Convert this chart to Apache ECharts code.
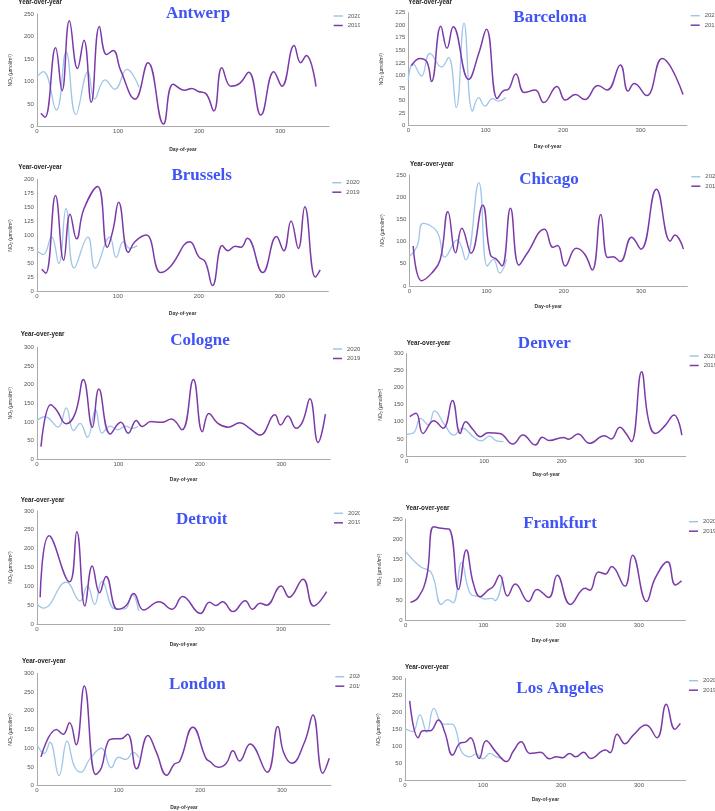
<!DOCTYPE html>
<html><head><meta charset="utf-8">
<script src="https://cdn.jsdelivr.net/npm/echarts@6/dist/echarts.min.js"></script>
<style>
html,body{margin:0;padding:0;background:#fff;width:715px;height:811px;overflow:hidden}
#left{position:absolute;left:0;top:0;width:360px;height:811px;overflow:hidden}
#right{position:absolute;left:360px;top:0;width:355px;height:811px;overflow:hidden}
</style>
</head><body><div id="left"></div><div id="right"></div>
<script>
// ---------- DATA ----------
const cities = ['Antwerp','Barcelona','Brussels','Chicago','Cologne','Denver','Detroit','Frankfurt','London','Los Angeles'];
const seriesNames = ['2020','2019'];
const yAxisMax = [250,225,200,250,300,300,300,250,300,300];
const yAxisStep = [50,25,25,50,50,50,50,50,50,50];
const xAxisMax = 360;
const xAxisStep = 100;

const antwerp2020 = [[0,111],[8,122],[24,37],[36,166],[48,27],[63,122],[71,61],[84,104],[96,83],[111,127],[126,87]];
const antwerp2019 = [[5,30],[10,21],[23,175],[31,80],[40,235],[50,129],[58,192],[67,54],[77,222],[86,160],[94,169],[103,126],[121,61],[137,142],[156,6],[168,94],[182,81],[191,85],[199,78],[208,74],[218,35],[228,131],[239,90],[250,96],[261,121],[276,26],[292,122],[302,90],[317,180],[325,142],[332,158],[344,89]];

const barcelona2020 = [[0,91],[6,124],[17,99],[28,144],[43,117],[52,136],[62,36],[72,204],[83,29],[91,56],[99,39],[109,54],[116,49],[126,56]];
const barcelona2019 = [[4,119],[15,134],[24,127],[30,88],[42,198],[50,154],[58,197],[78,92],[91,144],[101,192],[115,54],[123,70],[129,72],[139,103],[150,66],[164,71],[175,46],[192,78],[203,51],[216,62],[228,52],[245,80],[257,71],[274,121],[284,69],[292,84],[308,60],[328,134],[355,62]];

const brussels2020 = [[0,73],[8,66],[18,98],[27,50],[36,148],[46,42],[63,97],[72,42],[90,97],[98,61],[107,89],[115,77],[124,82]];
const brussels2019 = [[6,40],[11,33],[23,171],[33,56],[41,138],[49,94],[58,147],[75,187],[87,79],[94,110],[101,159],[113,70],[121,89],[135,101],[153,34],[165,45],[189,89],[200,62],[208,53],[217,11],[229,82],[236,73],[245,81],[252,79],[260,95],[279,34],[296,98],[305,73],[314,126],[323,77],[331,151],[344,26],[350,39]];

const chicago2020 = [[0,66],[10,89],[18,141],[36,122],[46,65],[62,104],[73,59],[90,233],[101,45],[109,60],[117,29],[126,60]];
const chicago2019 = [[5,90],[16,12],[29,29],[40,59],[50,167],[60,75],[68,130],[80,74],[95,182],[105,70],[113,60],[120,45],[131,175],[142,47],[152,72],[175,128],[186,87],[192,91],[202,45],[216,85],[227,72],[237,36],[248,161],[257,64],[264,66],[273,55],[288,110],[300,83],[320,218],[338,101],[344,115],[355,83]];

const cologne2020 = [[0,104],[10,114],[26,86],[36,138],[45,77],[53,96],[62,59],[72,132],[80,70],[90,89],[99,79],[109,89],[117,83],[124,88]];
const cologne2019 = [[5,34],[17,146],[24,132],[36,95],[47,123],[57,214],[68,86],[76,188],[90,68],[103,99],[112,70],[122,104],[129,88],[140,101],[153,99],[165,108],[178,79],[192,214],[203,74],[211,123],[222,96],[235,86],[249,98],[261,83],[274,65],[292,119],[299,92],[308,116],[318,83],[326,101],[335,162],[345,45],[354,121]];

const denver2020 = [[0,64],[9,68],[18,110],[28,91],[36,132],[49,91],[61,61],[72,81],[86,56],[96,44],[107,58],[116,44],[125,42]];
const denver2019 = [[4,115],[12,125],[21,66],[35,103],[47,81],[59,162],[69,66],[76,100],[86,76],[95,56],[105,68],[120,66],[137,35],[150,61],[166,32],[175,55],[184,45],[202,54],[209,49],[221,64],[236,37],[255,59],[264,50],[275,84],[283,66],[290,42],[303,246],[312,105],[321,66],[333,88],[345,120],[355,61]];

const detroit2020 = [[0,53],[8,42],[36,111],[53,61],[62,101],[71,52],[80,114],[96,40],[108,40],[117,79],[125,35]];
const detroit2019 = [[4,71],[15,234],[40,112],[49,245],[59,48],[68,154],[77,83],[85,126],[99,39],[110,50],[119,81],[131,37],[150,59],[166,39],[179,73],[201,28],[212,58],[220,49],[228,59],[241,33],[256,62],[265,39],[274,55],[282,50],[300,101],[310,71],[327,119],[340,48],[356,86]];

const frankfurt2020 = [[0,170],[18,134],[33,118],[46,40],[54,52],[61,44],[72,143],[83,67],[94,59],[103,53],[111,55],[115,49],[125,108]];
const frankfurt2019 = [[6,45],[16,57],[27,108],[36,231],[46,227],[56,225],[68,77],[78,174],[87,92],[96,59],[106,75],[113,85],[121,112],[131,61],[141,90],[158,47],[169,77],[184,57],[195,112],[212,40],[231,80],[237,75],[248,120],[257,115],[265,133],[282,85],[292,161],[310,47],[321,104],[337,145],[347,88],[355,98]];

const london2020 = [[0,110],[9,86],[16,116],[27,27],[37,119],[46,51],[54,36],[64,69],[79,100],[91,48],[100,76],[109,70],[118,89],[125,75]];
const london2019 = [[5,77],[24,150],[32,137],[40,168],[48,109],[58,266],[72,30],[79,48],[87,118],[95,125],[103,125],[111,137],[122,45],[136,134],[146,91],[159,28],[168,57],[175,66],[191,156],[207,73],[212,64],[222,49],[232,60],[240,93],[248,66],[261,111],[282,36],[295,158],[302,89],[312,60],[328,118],[338,189],[350,33],[358,73]];

const losAngeles2020 = [[0,153],[10,144],[19,193],[28,142],[37,212],[49,166],[60,166],[66,144],[72,87],[83,70],[91,78],[100,64],[109,80],[117,70],[126,65]];
const losAngeles2019 = [[6,234],[17,126],[23,146],[32,146],[43,178],[51,142],[61,75],[70,109],[78,114],[84,126],[95,65],[104,117],[117,83],[130,56],[139,87],[149,114],[160,80],[174,83],[185,64],[194,70],[202,67],[211,80],[219,70],[229,83],[238,65],[257,90],[263,82],[272,136],[282,108],[292,132],[309,163],[323,126],[335,224],[346,151],[353,168]];

const data2020 = [antwerp2020, barcelona2020, brussels2020, chicago2020, cologne2020, denver2020, detroit2020, frankfurt2020, london2020, losAngeles2020];
const data2019 = [antwerp2019, barcelona2019, brussels2019, chicago2019, cologne2019, denver2019, detroit2019, frankfurt2019, london2019, losAngeles2019];

// ---------- LAYOUT (page pixel coordinates) ----------
const layout = [
  {col:0, l:18,    t:14,    w:311,   h:112.7, tx:198,   ty:15,    yx:18.3,  yy:3.5,   lx:335.7, ly:16,    yg:12.2, xg:20},
  {col:1, l:408.3, t:12.7,  w:278.6, h:113,   tx:550,   ty:19,    yx:408.3, yy:3.3,   lx:692.7, ly:15.7,  yg:16.5, xg:18.5},
  {col:0, l:18,    t:179.3, w:310.3, h:112.4, tx:201.7, ty:177,   yx:18.3,  yy:168,   lx:334.3, ly:182.7, yg:12.2, xg:19.8},
  {col:1, l:409.3, t:175,   w:278,   h:111,   tx:549,   ty:180.7, yx:410,   yy:165,   lx:693.3, ly:176.7, yg:17.5, xg:18.2},
  {col:0, l:20.7,  t:347.3, w:309.6, h:112,   tx:200,   ty:341.7, yx:20.7,  yy:335,   lx:335,   ly:349,   yg:14.9, xg:18.2},
  {col:1, l:406.7, t:353.3, w:279,   h:102.7, tx:544.3, ty:345,   yx:406.7, yy:344,   lx:691.7, ly:356,   yg:14.9, xg:16.5},
  {col:0, l:20.7,  t:511,   w:309.2, h:113,   tx:201.7, ty:521,   yx:20.7,  yy:500.7, lx:336,   ly:513.3, yg:14.9, xg:18},
  {col:1, l:405.7, t:519,   w:279.7, h:101.7, tx:560,   ty:524.3, yx:405.7, yy:509.3, lx:691,   ly:521.7, yg:13.2, xg:17.5},
  {col:0, l:22,    t:673.3, w:308.9, h:112.4, tx:197.3, ty:686,   yx:22,    yy:662.3, lx:337.3, ly:676.7, yg:16.2, xg:19},
  {col:1, l:405,   t:678.3, w:280.8, h:102.4, tx:560,   ty:690,   yx:405,   yy:668.3, lx:691,   ly:680.7, yg:13.5, xg:16.8}
];
const colX = [0, 360];

const C2020 = '#9fc5e8';
const C2019 = '#7b3aa8';
const TITLE_BLUE = '#4053f5';
const SANS = '"Liberation Sans", Arial, sans-serif';

function buildOption(col) {
  const opt = {animation:false, backgroundColor:'#fff', title:[], legend:[], grid:[], xAxis:[], yAxis:[], series:[]};
  let k = 0;
  cities.forEach((city, i) => {
    const L = layout[i];
    if (L.col !== col) return;
    const ox = colX[col];
    opt.grid.push({left:L.l-ox, top:L.t, width:L.w, height:L.h, containLabel:false});
    opt.title.push({
      text:city, left:L.tx-ox, top:L.ty-9.5, textAlign:'center', padding:0,
      textStyle:{fontFamily:'"Liberation Serif","Times New Roman",serif', fontWeight:'bold', fontSize:17, color:TITLE_BLUE}
    });
    opt.title.push({
      text:'Year-over-year', left:L.yx-ox, top:L.yy-3.8, padding:0,
      textStyle:{fontFamily:SANS, fontWeight:'bold', fontSize:6.3, color:'#222'}
    });
    opt.legend.push({
      data:seriesNames, orient:'vertical', left:L.lx-ox-2, top:L.ly-3.5, padding:0,
      icon:'rect', itemWidth:9, itemHeight:1.5, itemGap:2.5,
      textStyle:{fontFamily:SANS, fontSize:6, color:'#555', lineHeight:7}
    });
    opt.xAxis.push({
      type:'value', gridIndex:k, min:0, max:xAxisMax, interval:xAxisStep,
      name:'Day-of-year', nameLocation:'middle', nameGap:L.xg,
      nameTextStyle:{fontFamily:SANS, fontWeight:'bold', fontSize:5, color:'#333'},
      axisLine:{show:true, lineStyle:{color:'#aaa', width:1}},
      axisTick:{show:false}, splitLine:{show:false},
      axisLabel:{fontFamily:SANS, fontSize:6, color:'#555', margin:2, showMaxLabel:false}
    });
    opt.yAxis.push({
      type:'value', gridIndex:k, min:0, max:yAxisMax[i], interval:yAxisStep[i],
      name:'NO\u2082 (\u00b5mol/m\u00b2)', nameLocation:'middle', nameRotate:90, nameGap:L.yg,
      nameTextStyle:{fontFamily:SANS, fontSize:5, color:'#333'},
      axisLine:{show:true, lineStyle:{color:'#aaa', width:1}},
      axisTick:{show:false}, splitLine:{show:false},
      axisLabel:{fontFamily:SANS, fontSize:6, color:'#555', margin:3}
    });
    opt.series.push({
      name:seriesNames[0], type:'line', xAxisIndex:k, yAxisIndex:k, data:data2020[i],
      smooth:0.45, symbol:'none', lineStyle:{color:C2020, width:1.3}, itemStyle:{color:C2020}
    });
    opt.series.push({
      name:seriesNames[1], type:'line', xAxisIndex:k, yAxisIndex:k, data:data2019[i],
      smooth:0.45, symbol:'none', lineStyle:{color:C2019, width:1.5}, itemStyle:{color:C2019}
    });
    k++;
  });
  return opt;
}

echarts.init(document.getElementById('left'), null, {renderer:'canvas'}).setOption(buildOption(0));
echarts.init(document.getElementById('right'), null, {renderer:'canvas'}).setOption(buildOption(1));
</script>
</body></html>
